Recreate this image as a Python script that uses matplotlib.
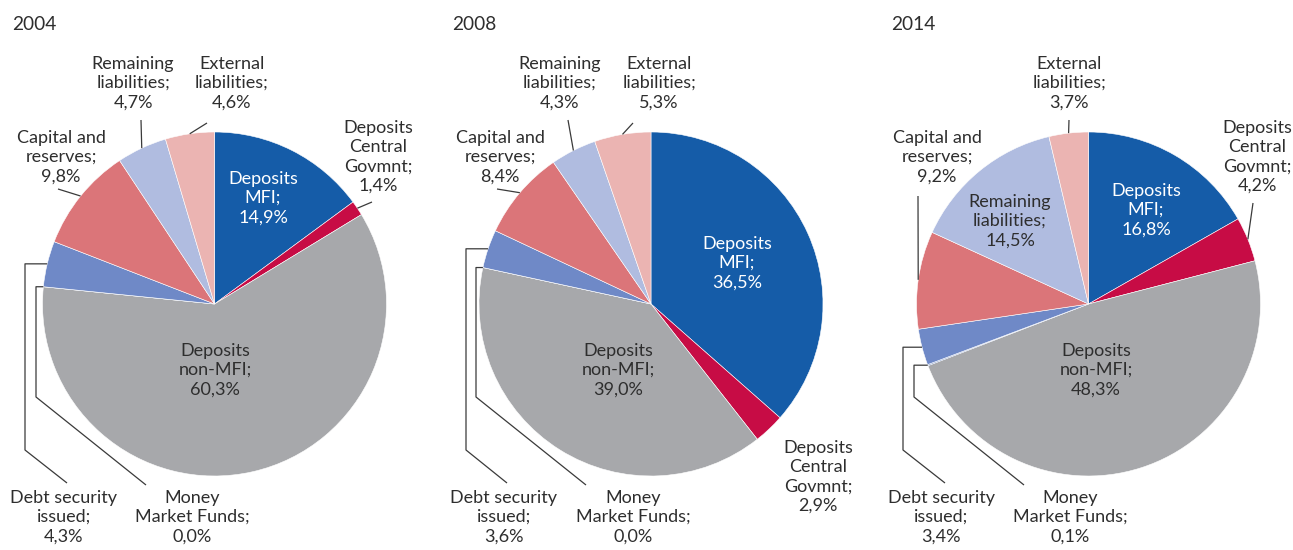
import numpy as np
import matplotlib
matplotlib.use("Agg")
import matplotlib.pyplot as plt

plt.rcParams['font.family'] = ['Lato', 'DejaVu Sans']

W, H = 1293, 550

categories = ["Deposits MFI", "Deposits Central Govmnt", "Deposits non-MFI",
              "Money Market Funds", "Debt security issued", "Capital and reserves",
              "Remaining liabilities", "External liabilities"]
label_names = ["Deposits\nMFI;", "Deposits\nCentral\nGovmnt;", "Deposits\nnon-MFI;",
               "Money\nMarket Funds;", "Debt security\nissued;", "Capital and\nreserves;",
               "Remaining\nliabilities;", "External\nliabilities;"]
years = ["2004", "2008", "2014"]
values_2004 = [14.9, 1.4, 60.3, 0.0, 4.3, 9.8, 4.7, 4.6]
values_2008 = [36.5, 2.9, 39.0, 0.0, 3.6, 8.4, 4.3, 5.3]
values_2014 = [16.8, 4.2, 48.3, 0.1, 3.4, 9.2, 14.5, 3.7]
series = [values_2004, values_2008, values_2014]

colors = ["#155ca8", "#c70c45", "#a7a8ab", "#4c6db4",
          "#6f89c7", "#db7579", "#b0bce0", "#ebb4b2"]
text_dark = "#2e2e2e"

# layout in pixel units (origin top-left)
centers = [(214.5, 304), (651, 304), (1088.5, 304)]
radius = 172
title_x = [12, 452, 891]

# label placement per pie: category -> (text x, text y, colour, leader route)
# route: None = no leader; list of points after the wedge anchor;
# a point (x, None) keeps the previous y (horizontal run)
layouts = [
    {
        0: (263, 198, "white", None),
        1: (378, 157, text_dark, [(372, 202)]),
        2: (215, 370, text_dark, None),
        3: (192, 517, text_dark, [(36, None), (36, 397), (146, 485)]),
        4: (64, 517, text_dark, [(25, None), (25, 450), (67, 483)]),
        5: (61, 157, text_dark, [(58, 189)]),
        6: (133, 83, text_dark, [(141, 120)]),
        7: (232, 83, text_dark, [(207, 123)]),
    },
    {
        0: (737, 263, "white", None),
        1: (818, 477, text_dark, None),
        2: (618, 370, text_dark, None),
        3: (633, 517, text_dark, [(476, None), (476, 397), (586, 485)]),
        4: (504, 517, text_dark, [(466, None), (466, 450), (507, 483)]),
        5: (500, 157, text_dark, [(497, 189)]),
        6: (560, 83, text_dark, [(568, 120)]),
        7: (659, 83, text_dark, [(633, 123)]),
    },
    {
        0: (1146, 210, "white", None),
        1: (1257, 157, text_dark, [(1253, 203)]),
        2: (1096, 370, text_dark, None),
        3: (1070, 517, text_dark, [(914, None), (914, 397), (1024, 485)]),
        4: (941, 517, text_dark, [(903, None), (903, 450), (945, 483)]),
        5: (937, 157, text_dark, [(918, 196)]),
        6: (1010, 221, text_dark, None),
        7: (1069, 83, text_dark, [(1069, 120)]),
    },
]


def fmt(v):
    return f"{v:.1f}".replace(".", ",") + "%"


fig = plt.figure(figsize=(W / 100, H / 100), dpi=100)
ax = fig.add_axes([0, 0, 1, 1])

FS = 13.0

for year, vals, (cx, cy), tx, lay in zip(years, series, centers, title_x, layouts):
    ccy = H - cy
    wedges, _ = ax.pie(vals, colors=colors, startangle=90, counterclock=False,
                       radius=radius, center=(cx, ccy),
                       wedgeprops=dict(edgecolor="white", linewidth=0.4))
    ax.text(tx, H - 25, year, fontsize=13.8, color=text_dark, ha="left", va="center")
    total = sum(vals)
    cum = np.cumsum([0] + list(vals))
    for i, (lx, ly, col, route) in lay.items():
        ax.text(lx, H - ly, f"{label_names[i]}\n{fmt(vals[i])}", fontsize=FS,
                color=col, ha="center", va="center", linespacing=1.26)
        if route is None:
            continue
        mid = (cum[i] + cum[i + 1]) / 2 / total * 2 * np.pi
        ax_x = cx + radius * np.sin(mid)
        ax_y = ccy + radius * np.cos(mid)
        xs, ys = [ax_x], [ax_y]
        for px, py in route:
            xs.append(px)
            ys.append(ys[-1] if py is None else H - py)
        ax.plot(xs, ys, color="#3a3a3a", linewidth=0.9, solid_capstyle="butt")

ax.set_xlim(0, W)
ax.set_ylim(0, H)
ax.set_aspect("equal")
ax.axis("off")

fig.savefig("out.png", dpi=100)
